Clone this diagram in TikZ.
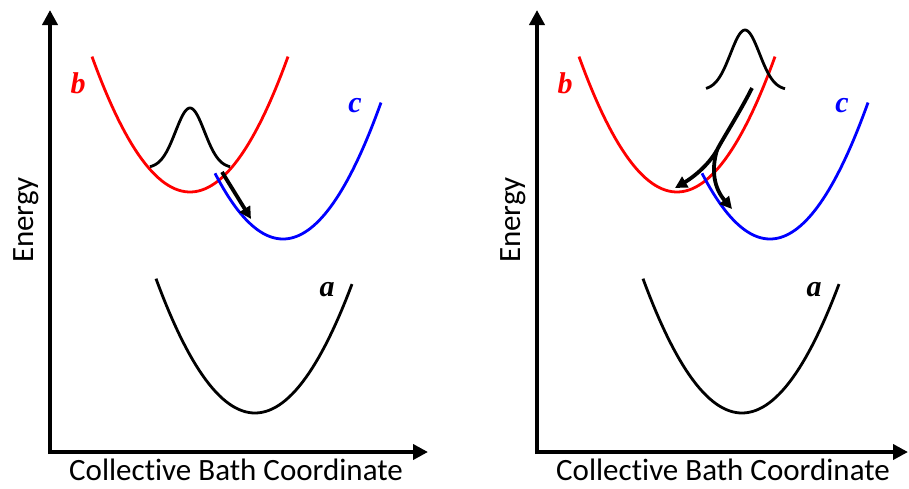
\documentclass[tikz,border=0pt]{standalone}
\usepackage{fontspec}
\setmainfont{Carlito}[Ligatures=NoCommon]
\newfontfamily\labfont{Liberation Serif}
\usetikzlibrary{arrows.meta}
\tikzset{
  axis/.style={line width=4.5pt, -{Triangle[length=15pt,width=15pt]}},
  curve/.style={line width=2.8pt},
  flow/.style={line width=3.8pt, -{Triangle[length=12pt,width=12pt]}},
  axlabel/.style={font=\fontsize{31}{36}\selectfont, inner sep=0pt, anchor=base},
  curvelabel/.style={font=\labfont\bfseries\itshape\fontsize{30}{34}\selectfont, inner sep=0pt}
}
\begin{document}
\begin{tikzpicture}[x=1pt,y=-1pt]
\useasboundingbox (0,0) rectangle (909,488);
% ---------- left panel ----------
\coordinate (O1) at (50,452);
\coordinate (Y1) at (50,10);
\coordinate (X1) at (428,452);
\draw[axis] (O1 |- 0,454) -- (Y1);
\draw[axis] (48,452) -- (X1);
\node[axlabel] (xl1) at (236,480) {Collective Bath Coordinate};
\node[axlabel, rotate=90] (yl1) at (33,220) {Energy};
\draw[curve, red] plot[domain=-98:98, samples=60] ({190+\x},{192-0.0141*\x*\x});
\draw[curve, blue] plot[domain=-68:98, samples=60] ({283+\x},{239-0.0142*\x*\x});
\draw[curve, black] plot[domain=-99:97, samples=60] ({255+\x},{413-0.0137*\x*\x});
\draw[curve, black] plot[domain=-40:40, samples=60] ({190+\x},{168-60*exp(-(\x*\x)/420)});
\node[curvelabel, red] (b1) at (78,83) {b};
\node[curvelabel, blue] (c1) at (355,106) {c};
\node[curvelabel, black] (a1) at (327,290) {a};
\coordinate (s1) at (222,172);
\coordinate (e1) at (251,219);
\draw[flow] (s1) -- (e1);
% ---------- right panel ----------
\coordinate (O2) at (537,452);
\coordinate (Y2) at (537,10);
\coordinate (X2) at (908,452);
\draw[axis] (O2 |- 0,454) -- (Y2);
\draw[axis] (535,452) -- (X2);
\node[axlabel] (xl2) at (723,480) {Collective Bath Coordinate};
\node[axlabel, rotate=90] (yl2) at (520,220) {Energy};
\draw[curve, red] plot[domain=-98:98, samples=60] ({677+\x},{192-0.0141*\x*\x});
\draw[curve, blue] plot[domain=-68:98, samples=60] ({770+\x},{239-0.0142*\x*\x});
\draw[curve, black] plot[domain=-99:97, samples=60] ({742+\x},{413-0.0137*\x*\x});
\draw[curve, black] plot[domain=-39:40, samples=60] ({745+\x},{90-60*exp(-(\x*\x)/420)});
\node[curvelabel, red] (b2) at (565,83) {b};
\node[curvelabel, blue] (c2) at (842,106) {c};
\node[curvelabel, black] (a2) at (814,290) {a};
\coordinate (s2) at (752,88);
\coordinate (m2) at (717,150);
\coordinate (e2a) at (675,188);
\coordinate (e2b) at (732,209);
\draw[flow] (s2) .. controls (740,112) and (722,140) .. (m2) .. controls (708,166) and (692,178) .. (e2a);
\draw[flow] (m2) .. controls (711,170) and (714,188) .. (e2b);
\end{tikzpicture}
\end{document}
